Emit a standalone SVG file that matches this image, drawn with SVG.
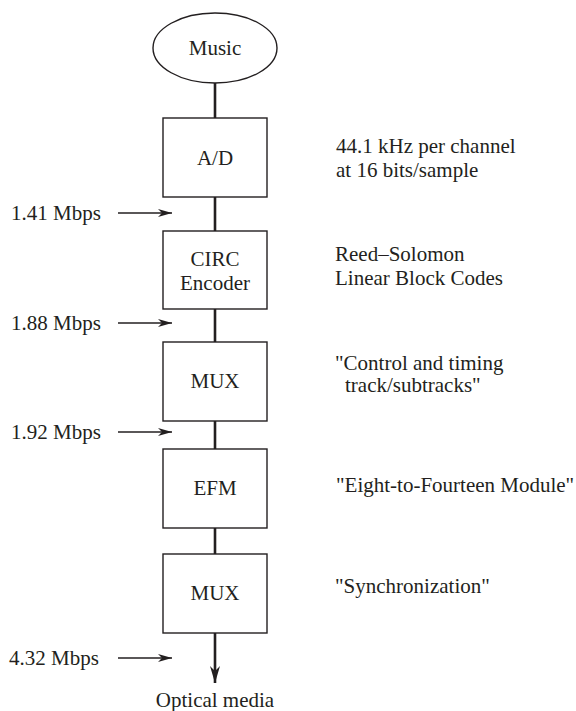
<svg xmlns="http://www.w3.org/2000/svg" width="576" height="711" viewBox="0 0 576 711">
<style>
text{font-family:"Liberation Serif","Times New Roman",serif;font-size:21px;fill:#231f20}
.c{text-anchor:middle}
.box{fill:#fff;stroke:#231f20;stroke-width:1.4}
.link{stroke:#231f20;stroke-width:2.6;fill:none}
.rate{stroke:#231f20;stroke-width:1.3;fill:none}
</style>
<defs>
<marker id="ah" viewBox="0 0 14 8" refX="14" refY="4" markerWidth="14" markerHeight="8" markerUnits="userSpaceOnUse" orient="auto">
<path d="M0,0 L14,4 L0,8 L4,4 Z" fill="#231f20"/>
</marker>
<marker id="ahBig" viewBox="0 0 10 17" refX="5" refY="17" markerWidth="10" markerHeight="17" markerUnits="userSpaceOnUse" orient="0">
<path d="M0,0 L5,5 L10,0 L5,17 Z" fill="#231f20"/>
</marker>
</defs>
<g id="connectors">
<line class="link" x1="215" y1="83" x2="215" y2="118"/>
<line class="link" x1="215" y1="197" x2="215" y2="231"/>
<line class="link" x1="215" y1="309" x2="215" y2="342"/>
<line class="link" x1="215" y1="421" x2="215" y2="449"/>
<line class="link" x1="215" y1="528" x2="215" y2="554"/>
<line class="link" x1="215" y1="633" x2="215" y2="683" marker-end="url(#ahBig)"/>
<line class="rate" x1="118" y1="213" x2="172" y2="213" marker-end="url(#ah)"/>
<line class="rate" x1="118" y1="323" x2="172" y2="323" marker-end="url(#ah)"/>
<line class="rate" x1="118" y1="432" x2="172" y2="432" marker-end="url(#ah)"/>
<line class="rate" x1="118" y1="658" x2="172" y2="658" marker-end="url(#ah)"/>
</g>
<g id="music">
<ellipse cx="215" cy="48" rx="62" ry="35" fill="#fff" stroke="#231f20" stroke-width="1.4"/>
<text class="c" x="215" y="55">Music</text>
</g>
<g id="ad">
<rect class="box" x="163" y="118" width="104" height="79"/>
<text class="c" x="215" y="165">A/D</text>
</g>
<g id="circ">
<rect class="box" x="163" y="231" width="104" height="78"/>
<text class="c" x="215" y="266">CIRC</text>
<text class="c" x="215" y="290">Encoder</text>
</g>
<g id="mux1">
<rect class="box" x="163" y="342" width="104" height="79"/>
<text class="c" x="215" y="388">MUX</text>
</g>
<g id="efm">
<rect class="box" x="163" y="449" width="104" height="79"/>
<text class="c" x="215" y="495">EFM</text>
</g>
<g id="mux2">
<rect class="box" x="163" y="554" width="104" height="79"/>
<text class="c" x="215" y="600">MUX</text>
</g>
<g id="optical">
<text class="c" x="215" y="707">Optical media</text>
</g>
<g id="rates">
<text x="11" y="220">1.41 Mbps</text>
<text x="11" y="330">1.88 Mbps</text>
<text x="11" y="439">1.92 Mbps</text>
<text x="9" y="665">4.32 Mbps</text>
</g>
<g id="notes">
<text x="336" y="153">44.1 kHz per channel</text>
<text x="336" y="177">at 16 bits/sample</text>
<text x="335" y="261">Reed–Solomon</text>
<text x="335" y="285">Linear Block Codes</text>
<text x="335" y="370">"Control and timing</text>
<text x="345" y="392">track/subtracks"</text>
<text x="336" y="492">"Eight-to-Fourteen Module"</text>
<text x="335" y="593">"Synchronization"</text>
</g>
</svg>
